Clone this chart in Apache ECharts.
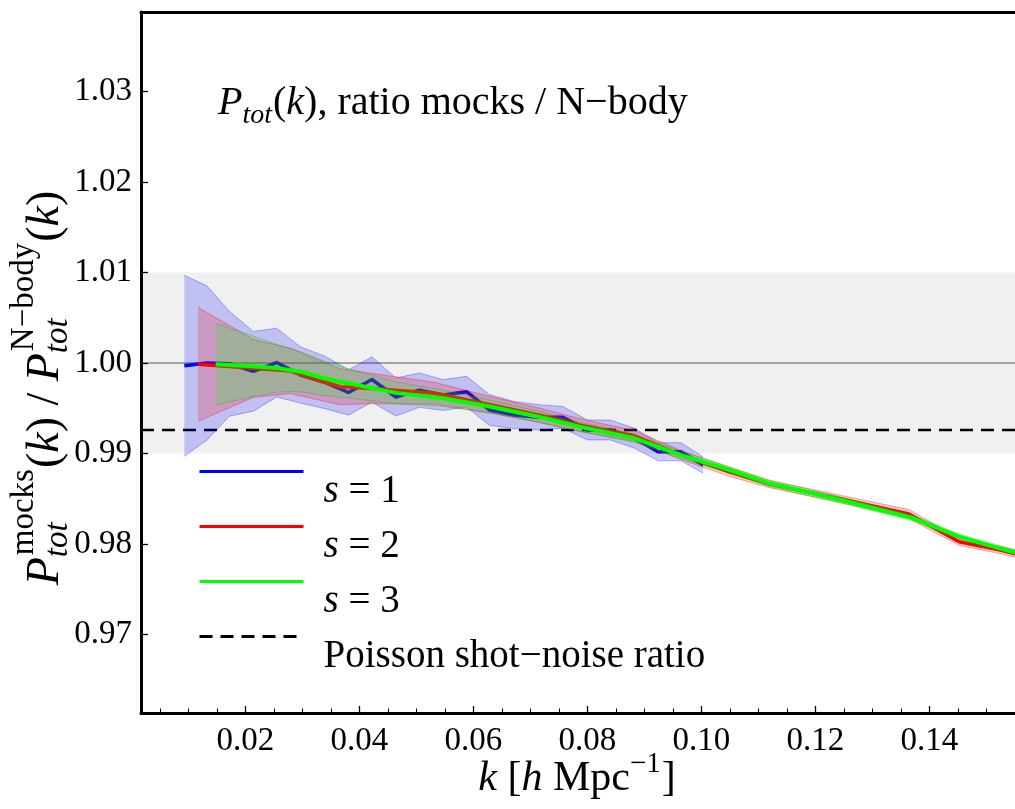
<!DOCTYPE html>
<html>
<head>
<meta charset="utf-8">
<script src="https://cdn.jsdelivr.net/npm/echarts@6/dist/echarts.min.js"></script>
<style>
  html, body { margin: 0; padding: 0; background: #ffffff; }
  #chart { width: 1015px; height: 809px; }
</style>
</head>
<body>
<div id="chart"></div>
<script>
// ---- data: ratio of mock to N-body total power spectrum ----
// s = 1
const k1 = [0.0093, 0.0133, 0.0172, 0.0214, 0.0255, 0.0297, 0.0340, 0.0381, 0.0422, 0.0464, 0.0505, 0.0547,
            0.0588, 0.0628, 0.0671, 0.0714, 0.0757, 0.0800, 0.0840, 0.0883, 0.0924, 0.0964, 0.1003];
const ratio1 = [0.99969, 1.00000, 0.99992, 0.99908, 1.00005, 0.99867, 0.99785, 0.99674, 0.99818, 0.99624, 0.99700, 0.99646,
                0.99683, 0.99481, 0.99425, 0.99400, 0.99400, 0.99260, 0.99260, 0.99168, 0.99020, 0.99020, 0.98873];
const err1 = [0.0100, 0.0085, 0.0058, 0.0044, 0.0038, 0.0031, 0.0029, 0.0025, 0.0025, 0.0021, 0.0019, 0.0017,
              0.0017, 0.0017, 0.0015, 0.0014, 0.0012, 0.0011, 0.0011, 0.0011, 0.0010, 0.0010, 0.0009];
// s = 2
const k2 = [0.0117, 0.0214, 0.0279, 0.0366, 0.0417, 0.0533, 0.0631, 0.0714, 0.0786, 0.0883, 0.0964, 0.1050,
            0.1119, 0.1245, 0.1364, 0.1452, 0.1524, 0.1567];
const ratio2 = [0.99986, 0.99941, 0.99912, 0.99738, 0.99720, 0.99665, 0.99536, 0.99425, 0.99315, 0.99193, 0.98983, 0.98796,
                0.98663, 0.98497, 0.98331, 0.98025, 0.97934, 0.97867];
const err2 = [0.0063, 0.0032, 0.0025, 0.0020, 0.0017, 0.0012, 0.0009, 0.0008, 0.0007, 0.0006, 0.0005, 0.0005,
              0.0004, 0.0004, 0.0005, 0.0004, 0.0004, 0.0004];
// s = 3
const k3 = [0.0148, 0.0205, 0.0257, 0.0297, 0.0338, 0.0381, 0.0424, 0.0464, 0.0547, 0.0631, 0.0714, 0.0786,
            0.0883, 0.0964, 0.1050, 0.1119, 0.1245, 0.1372, 0.1452, 0.1524, 0.1567];
const ratio3 = [0.99986, 0.99967, 0.99941, 0.99904, 0.99831, 0.99776, 0.99720, 0.99670, 0.99610, 0.99517, 0.99407, 0.99296,
                0.99168, 0.98983, 0.98818, 0.98671, 0.98486, 0.98284, 0.98081, 0.97952, 0.97878];
const err3 = [0.0045, 0.0035, 0.0026, 0.0022, 0.0019, 0.0016, 0.0014, 0.0012, 0.0009, 0.0007, 0.0006, 0.0005,
              0.00045, 0.0004, 0.00035, 0.00035, 0.00035, 0.0003, 0.0003, 0.0003, 0.0003];

// Poisson shot-noise ratio and the +/-1% reference band
const shotNoiseRatio = 0.9926;
const unity = 1.0;
const bandLow = 0.99;
const bandHigh = 1.01;

// axis ranges and ticks
const kMin = 0.0017, kMax = 0.155;
const ratioMin = 0.96133, ratioMax = 1.03878;
const kTicks = [0.02, 0.04, 0.06, 0.08, 0.10, 0.12, 0.14];
const kMinorTicks = [0.005, 0.01, 0.015, 0.025, 0.03, 0.035, 0.045, 0.05, 0.055, 0.065, 0.07, 0.075,
                     0.085, 0.09, 0.095, 0.105, 0.11, 0.115, 0.125, 0.13, 0.135, 0.145, 0.15];
const ratioTicks = [0.97, 0.98, 0.99, 1.00, 1.01, 1.02, 1.03];

// legend entries
const legendNames = ['s = 1', 's = 2', 's = 3', 'Poisson shot−noise ratio'];

const SERIF = '"Liberation Serif", "Times New Roman", serif';

// ---- helpers for typeset text (sub/superscripts) ----
const meas = document.createElement('canvas').getContext('2d');
function textWidth(str, size, italic) {
  meas.font = (italic ? 'italic ' : '') + size + 'px ' + SERIF;
  return meas.measureText(str).width;
}
function textEl(t, x, baseline, size, italic) {
  return {
    type: 'text', x: x, y: baseline - 0.34 * size, silent: true,
    style: {
      text: t, fontFamily: SERIF, fontSize: size, fontStyle: italic ? 'italic' : 'normal',
      fill: '#000', align: 'left', verticalAlign: 'middle'
    }
  };
}
function typeset(pieces) {
  let x = 0;
  const els = [];
  for (const p of pieces) {
    if (p.stack) {
      let wmax = 0;
      for (const s of p.stack) {
        const dx = s.dx || 0;
        els.push(textEl(s.t, x + dx, s.dy, s.size, s.italic));
        wmax = Math.max(wmax, dx + textWidth(s.t, s.size, s.italic));
      }
      x += wmax + (p.after || 0);
    } else {
      els.push(textEl(p.t, x, 0, p.size, p.italic));
      x += textWidth(p.t, p.size, p.italic);
    }
  }
  return { els: els, width: x };
}

// title inside the plot
const titleRun = typeset([
  { t: 'P', size: 40, italic: true },
  { stack: [{ t: 'tot', size: 28, italic: true, dy: 8 }], after: 1 },
  { t: '(', size: 40 },
  { t: 'k', size: 40, italic: true },
  { t: '), ratio mocks / N−body', size: 40 }
]);

// y axis title, drawn rotated
const B = 46, S = 33;
const yTitleRun = typeset([
  { t: 'P', size: B, italic: true },
  { stack: [{ t: 'mocks', size: S, dy: -26, dx: 2 }, { t: 'tot', size: S, italic: true, dy: 8 }], after: 1 },
  { t: '(', size: B },
  { t: 'k', size: B, italic: true },
  { t: ') / ', size: B },
  { t: 'P', size: B, italic: true },
  { stack: [{ t: 'N−body', size: S, dy: -26, dx: 2 }, { t: 'tot', size: S, italic: true, dy: 8 }], after: 1 },
  { t: '(', size: B },
  { t: 'k', size: B, italic: true },
  { t: ')', size: B }
]);

// x axis title
const xTitleRun = typeset([
  { t: 'k', size: 42, italic: true },
  { t: ' [', size: 42 },
  { t: 'h', size: 42, italic: true },
  { t: ' Mpc', size: 42 },
  { stack: [{ t: '−1', size: 29, dy: -19 }], after: 1 },
  { t: ']', size: 42 }
]);

// ---- uncertainty band drawn as a filled polygon between lower and upper values ----
function bandSeries(name, ks, mid, err, fill, edge, z) {
  return {
    type: 'custom',
    name: name,
    z: z,
    silent: true,
    clip: true,
    data: ks.map((k, i) => [k, mid[i] - err[i], mid[i] + err[i]]),
    encode: { x: 0, y: [1, 2] },
    renderItem: function (params, api) {
      if (params.dataIndexInside !== 0) return null;
      const n = params.dataInsideLength;
      const lo = [], hi = [];
      for (let i = 0; i < n; i++) {
        const k = api.value(0, i);
        lo.push(api.coord([k, api.value(1, i)]));
        hi.push(api.coord([k, api.value(2, i)]));
      }
      const cs = params.coordSys;
      return {
        type: 'group',
        clipPath: { type: 'rect', shape: { x: cs.x, y: cs.y, width: cs.width, height: cs.height } },
        children: [
          { type: 'polygon', shape: { points: lo.concat(hi.slice().reverse()) }, style: { fill: fill, stroke: null } },
          { type: 'polyline', shape: { points: lo }, style: { stroke: edge, lineWidth: 1, fill: null } },
          { type: 'polyline', shape: { points: hi }, style: { stroke: edge, lineWidth: 1, fill: null } }
        ]
      };
    }
  };
}

function lineSeries(name, ks, vals, color, width, z) {
  return {
    type: 'line',
    name: name,
    z: z,
    silent: true,
    symbol: 'none',
    data: ks.map((k, i) => [k, vals[i]]),
    lineStyle: { color: color, width: width, join: 'round' },
    itemStyle: { color: color }
  };
}

const chart = echarts.init(document.getElementById('chart'), null, { renderer: 'canvas' });

const labelFont = { fontFamily: SERIF, fontSize: 33, color: '#000' };

const option = {
  animation: false,
  backgroundColor: '#ffffff',
  grid: { left: 141, right: -15, top: 12, bottom: 96, containLabel: false },
  xAxis: [
    {
      type: 'value', min: kMin, max: kMax, position: 'bottom', z: 10,
      axisLine: { show: true, onZero: false, lineStyle: { color: '#000', width: 3 } },
      axisTick: { show: true, inside: true, length: 7, customValues: kTicks, lineStyle: { color: '#000', width: 1.3 } },
      axisLabel: Object.assign({ show: true, customValues: kTicks, margin: 12, formatter: v => v.toFixed(2) }, labelFont),
      splitLine: { show: false }
    },
    {
      type: 'value', min: kMin, max: kMax, position: 'bottom', z: 10,
      axisLine: { show: false },
      axisTick: { show: true, inside: true, length: 4.5, customValues: kMinorTicks, lineStyle: { color: '#000', width: 1 } },
      axisLabel: { show: false },
      splitLine: { show: false }
    },
    {
      type: 'value', min: kMin, max: kMax, position: 'top', z: 10,
      axisLine: { show: true, onZero: false, lineStyle: { color: '#000', width: 3 } },
      axisTick: { show: false },
      axisLabel: { show: false },
      splitLine: { show: false }
    }
  ],
  yAxis: [
    {
      type: 'value', min: ratioMin, max: ratioMax, position: 'left', z: 10,
      axisLine: { show: true, onZero: false, lineStyle: { color: '#000', width: 3 } },
      axisTick: { show: true, inside: true, length: 7, customValues: ratioTicks, lineStyle: { color: '#000', width: 1.3 } },
      axisLabel: Object.assign({ show: true, customValues: ratioTicks, margin: 9, formatter: v => v.toFixed(2) }, labelFont),
      splitLine: { show: false }
    }
  ],
  legend: {
    orient: 'vertical',
    left: 198,
    top: 432,
    padding: 0,
    itemGap: -24,
    itemWidth: 104,
    itemHeight: 10,
    selectedMode: false,
    data: legendNames,
    itemStyle: { opacity: 0 },
    lineStyle: { width: 3 },
    formatter: function (name) {
      if (name.charAt(0) === 's') return '{it|s}{t|' + name.slice(1) + '}';
      return '{t0|' + name + '}';
    },
    textStyle: {
      fontFamily: SERIF, fontSize: 39, color: '#000',
      rich: {
        it: { fontFamily: SERIF, fontSize: 39, fontStyle: 'italic', color: '#000', padding: [40, 0, 0, 15], lineHeight: 19 },
        t: { fontFamily: SERIF, fontSize: 39, color: '#000', padding: [40, 0, 0, 0], lineHeight: 19 },
        t0: { fontFamily: SERIF, fontSize: 39, color: '#000', padding: [40, 0, 0, 15], lineHeight: 19 }
      }
    }
  },
  graphic: [
    { type: 'group', x: 218, y: 117, children: titleRun.els },
    { type: 'group', x: 577 - xTitleRun.width / 2, y: 793, children: xTitleRun.els },
    { type: 'group', x: 62, y: 388 + yTitleRun.width / 2, rotation: Math.PI / 2, children: yTitleRun.els }
  ],
  series: [
    {
      type: 'line', name: 'unity', z: 2, silent: true, symbol: 'none',
      data: [[kMin, unity], [kMax, unity]],
      lineStyle: { color: '#8a8a8a', width: 1.6 },
      markArea: {
        silent: true,
        itemStyle: { color: '#f0f0f0' },
        data: [[{ yAxis: bandLow }, { yAxis: bandHigh }]]
      }
    },
    {
      type: 'line', name: legendNames[3], z: 2, silent: true, symbol: 'none',
      data: [[kMin, shotNoiseRatio], [kMax, shotNoiseRatio]],
      lineStyle: { color: '#000', width: 2.6, type: [13, 8] },
      itemStyle: { color: '#000' }
    },
    bandSeries('band1', k1, ratio1, err1, 'rgba(0,0,255,0.2)', 'rgba(0,0,255,0.3)', 3),
    lineSeries(legendNames[0], k1, ratio1, '#0000ff', 3.5, 4),
    bandSeries('band2', k2, ratio2, err2, 'rgba(255,0,0,0.2)', 'rgba(255,0,0,0.35)', 5),
    lineSeries(legendNames[1], k2, ratio2, '#ff0000', 3.5, 6),
    bandSeries('band3', k3, ratio3, err3, 'rgba(0,255,0,0.2)', 'rgba(0,170,0,0.3)', 7),
    lineSeries(legendNames[2], k3, ratio3, '#00ff00', 4, 8)
  ]
};

chart.setOption(option);
</script>
</body>
</html>
